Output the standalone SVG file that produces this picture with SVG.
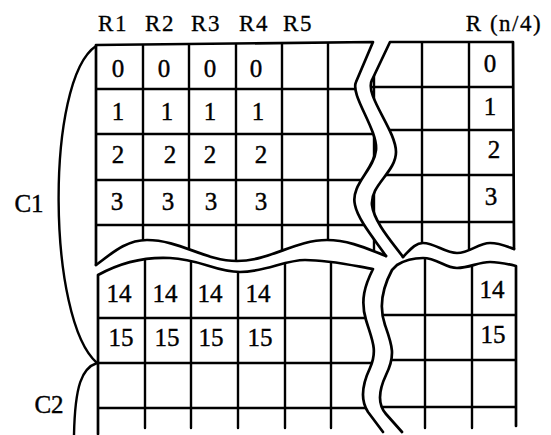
<svg xmlns="http://www.w3.org/2000/svg" width="551" height="435" viewBox="0 0 551 435">
<style>
.ln{stroke:#000;stroke-width:2.4;fill:none;stroke-linecap:round;stroke-linejoin:round}
.ed{stroke:#000;stroke-width:2.7;fill:none;stroke-linecap:round;stroke-linejoin:round}
.hd{font-family:"Liberation Serif","Times New Roman",serif;font-size:23px;fill:#000;stroke:#000;stroke-width:0.3;text-anchor:middle;letter-spacing:1.5px}
.nm{font-family:"Liberation Serif","Times New Roman",serif;font-size:25px;fill:#000;stroke:#000;stroke-width:0.4;text-anchor:middle}
</style>
<defs>
<clipPath id="cUL"><path d="M96 45 L373 42 L356 82 C350 95 378 130 376 150 C374 170 350 185 355 205 C358 220 375 240 386 256 C370 250 350 240 327 240 C295 240 270 261 237 261 C205 261 180 240 147 240 C125 240 110 255 96 265 Z"/></clipPath>
<clipPath id="cUR"><path d="M390 42 L513 42 L514 249 C508 247 500 243 490 243 C478 243 470 253 457 253 C445 253 435 243 423 243 C415 243 410 250 403 257 C392 242 374 222 372 205 C370 185 396 172 396 152 C396 130 364 95 372 80 Z"/></clipPath>
<clipPath id="cLL"><path d="M98 275 C125 260 150 257 170 258 C200 259 215 272 240 272 C265 272 285 260 305 260 C330 260 355 266 373 269 C365 285 360 300 366 320 C372 340 378 350 370 368 C362 385 360 400 368 412 L383 432 L383 440 L98 440 Z"/></clipPath>
<clipPath id="cLR"><path d="M392 270 C384 285 378 305 385 325 C392 345 396 355 386 375 C378 392 378 405 386 414 L402 432 L402 440 L516 440 L516 266 C508 264 500 262 490 262 C478 262 470 268 457 268 C445 268 437 258 423 258 C413 258 405 260 397 265 Z"/></clipPath>
</defs>
<rect width="551" height="435" fill="#fff"/>
<g id="header">
<text class="hd" x="113" y="31">R1</text>
<text class="hd" x="160" y="31">R2</text>
<text class="hd" x="206" y="31">R3</text>
<text class="hd" x="254" y="31">R4</text>
<text class="hd" x="298" y="31">R5</text>
<text class="hd" x="504" y="31">R (n/4)</text>
</g>
<g id="braces">
<path class="ln" d="M96 46 C45 80 47 320 97 363"/>
<path class="ln" d="M97 363 C82 368 75 385 74 435"/>
<text class="nm" x="29" y="212">C1</text>
<text class="nm" x="49" y="413">C2</text>
</g>
<g id="upper-left">
<g clip-path="url(#cUL)">
<path class="ln" d="M143 40V280M189 40V280M236 40V280M282 40V280M328 40V280M374 40V280"/>
<path class="ln" d="M90 89H400M90 134H400M90 180H400M90 225H400"/>
</g>
<path class="ed" d="M96 265 L96 45 L373 42 L356 82 C350 95 378 130 376 150 C374 170 350 185 355 205 C358 220 375 240 386 256"/>
<path class="ed" d="M96 265 C110 255 125 240 147 240 C180 240 205 261 237 261 C270 261 295 240 327 240 C350 240 370 250 386 256"/>
</g>
<g id="upper-right">
<g clip-path="url(#cUR)">
<path class="ln" d="M374 40V280M422 40V280M469 40V280"/>
<path class="ln" d="M360 87H520M360 130H520M360 175H520M360 222H520"/>
</g>
<path class="ed" d="M403 257 C392 242 374 222 372 205 C370 185 396 172 396 152 C396 130 364 95 372 80 L390 42 L513 42 L514 249"/>
<path class="ed" d="M403 257 C410 250 415 243 423 243 C435 243 445 253 457 253 C470 253 478 243 490 243 C500 243 508 247 514 249"/>
</g>
<g id="lower-left">
<g clip-path="url(#cLL)">
<path class="ln" d="M145 250V428M191 250V428M238 250V428M285 250V428M331 250V428"/>
<path class="ln" d="M95 318H400M95 363H400M95 408H400"/>
</g>
<path class="ed" d="M98 434 L98 275 C125 260 150 257 170 258 C200 259 215 272 240 272 C265 272 285 260 305 260 C330 260 355 266 373 269 C365 285 360 300 366 320 C372 340 378 350 370 368 C362 385 360 400 368 412 L383 432"/>
</g>
<g id="lower-right">
<g clip-path="url(#cLR)">
<path class="ln" d="M425 250V428M472 250V428"/>
<path class="ln" d="M370 315H520M370 360H520M370 407H520"/>
</g>
<path class="ed" d="M402 432 L386 414 C378 405 378 392 386 375 C396 355 392 345 385 325 C378 305 384 285 392 270 L397 265 C405 260 413 258 423 258 C437 258 445 268 457 268 C470 268 478 262 490 262 C500 262 508 264 516 266 L516 426"/>
</g>
<g id="cells">
<text class="nm" x="118" y="77">0</text><text class="nm" x="164" y="77">0</text><text class="nm" x="210" y="77">0</text><text class="nm" x="256" y="77">0</text><text class="nm" x="490" y="72">0</text>
<text class="nm" x="118" y="120">1</text><text class="nm" x="167" y="120">1</text><text class="nm" x="210" y="120">1</text><text class="nm" x="258" y="120">1</text><text class="nm" x="490" y="115">1</text>
<text class="nm" x="118" y="163">2</text><text class="nm" x="170" y="163">2</text><text class="nm" x="210" y="163">2</text><text class="nm" x="261" y="163">2</text><text class="nm" x="494" y="158">2</text>
<text class="nm" x="117" y="210">3</text><text class="nm" x="168" y="210">3</text><text class="nm" x="211" y="210">3</text><text class="nm" x="261" y="210">3</text><text class="nm" x="491" y="205">3</text>
<text class="nm" x="119" y="302">14</text><text class="nm" x="165" y="302">14</text><text class="nm" x="210" y="302">14</text><text class="nm" x="258" y="302">14</text><text class="nm" x="492" y="298">14</text>
<text class="nm" x="121" y="346">15</text><text class="nm" x="167" y="346">15</text><text class="nm" x="211" y="346">15</text><text class="nm" x="260" y="346">15</text><text class="nm" x="493" y="343">15</text>
</g>
</svg>
